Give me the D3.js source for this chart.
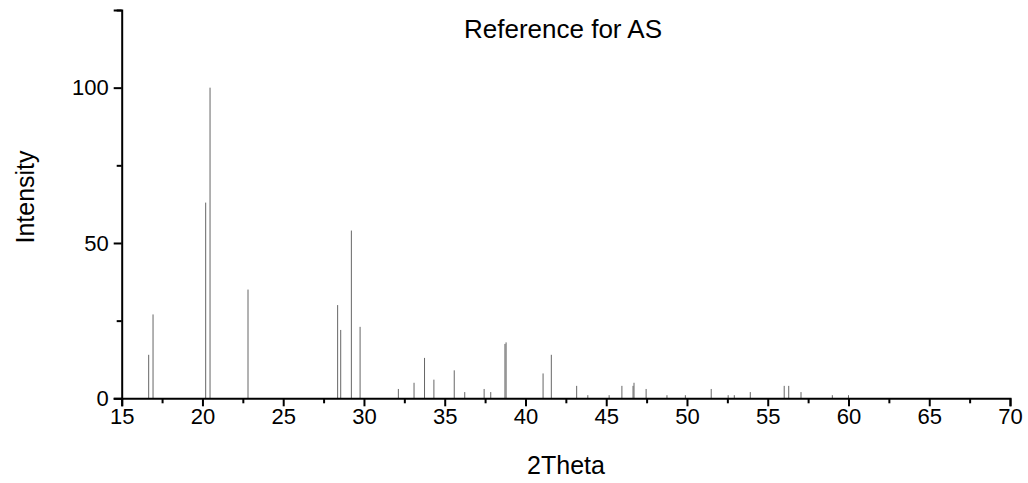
<!DOCTYPE html>
<html>
<head>
<meta charset="utf-8">
<script src="https://cdn.jsdelivr.net/npm/d3@7/dist/d3.min.js"></script>
<style>
  html, body { margin: 0; padding: 0; background: #fff; }
  svg { display: block; font-family: "Liberation Sans", Arial, sans-serif; }
</style>
</head>
<body>
<svg id="chart" width="1028" height="483"></svg>
<script>
// Reference diffraction lines: peak positions (2θ, degrees) and relative intensities
const twoTheta = [
  16.67, 16.94, 20.20, 20.47, 22.82, 28.37, 28.56, 29.22, 29.76,
  32.13, 33.10, 33.75, 34.33, 35.59, 36.24, 37.44, 37.85, 38.73, 38.80,
  41.09, 41.60, 43.17, 43.86, 45.18, 45.97, 46.66, 46.72, 47.47, 48.76,
  49.90, 51.50, 52.55, 52.93, 53.92, 56.02, 56.30, 57.06, 59.00, 60.00
];
const intensity = [
  14, 27, 63, 100, 35, 30, 22, 54, 23,
  3, 5, 13, 6, 9, 2, 3, 2, 17.5, 18,
  8, 14, 4, 1, 1, 4, 4, 5, 3, 1,
  1, 3, 1, 1, 2, 4, 4, 2, 1, 1
];

const xTicks = [15, 20, 25, 30, 35, 40, 45, 50, 55, 60, 65, 70];
const xMinorTicks = [17.5, 22.5, 27.5, 32.5, 37.5, 42.5, 47.5, 52.5, 57.5, 62.5, 67.5];
const yTicks = [0, 50, 100];
const yMinorTicks = [25, 75, 125];

const titleText = "Reference for AS";
const xLabel = "2Theta";
const yLabel = "Intensity";

const margin = { left: 121.7, right: 1010, top: 10, bottom: 398.3 };

const svg = d3.select("#chart");

const x = d3.scaleLinear().domain([15, 70]).range([margin.left, margin.right]);
const y = d3.scaleLinear().domain([0, 125]).range([margin.bottom, margin.top]);

// Stick pattern
svg.append("g")
  .selectAll("line")
  .data(twoTheta.map((t, i) => ({ t, v: intensity[i] })))
  .join("line")
  .attr("x1", d => x(d.t))
  .attr("x2", d => x(d.t))
  .attr("y1", y(0))
  .attr("y2", d => y(d.v))
  .attr("stroke", "#666")
  .attr("stroke-width", 1);

// X axis
const gx = svg.append("g").attr("transform", `translate(0,${y(0)})`);
gx.call(d3.axisBottom(x).tickValues(xTicks).tickSize(8).tickPadding(2).tickFormat(d3.format("d")));
gx.append("g").call(d3.axisBottom(x).tickValues(xMinorTicks).tickSize(5).tickFormat(""))
  .select(".domain").remove();

// Y axis
const gy = svg.append("g").attr("transform", `translate(${x(15)},0)`);
gy.call(d3.axisLeft(y).tickValues(yTicks).tickSize(8).tickPadding(5).tickFormat(d3.format("d")));
gy.append("g").call(d3.axisLeft(y).tickValues(yMinorTicks).tickSize(5).tickFormat(""))
  .select(".domain").remove();

svg.selectAll(".domain").attr("stroke", "#000").attr("stroke-width", 2);
svg.selectAll(".tick line").attr("stroke", "#000").attr("stroke-width", 2);
svg.selectAll(".tick text")
  .attr("fill", "#000")
  .style("font-size", "22px")
  .style("font-family", "'Liberation Sans', Arial, sans-serif");

// Title and axis titles
svg.append("text")
  .attr("x", 563).attr("y", 38)
  .attr("text-anchor", "middle")
  .style("font-size", "26px")
  .text(titleText);

svg.append("text")
  .attr("x", 566).attr("y", 474)
  .attr("text-anchor", "middle")
  .style("font-size", "25px")
  .text(xLabel);

svg.append("text")
  .attr("transform", `translate(34,197) rotate(-90)`)
  .attr("text-anchor", "middle")
  .style("font-size", "25px")
  .text(yLabel);
</script>
</body>
</html>
